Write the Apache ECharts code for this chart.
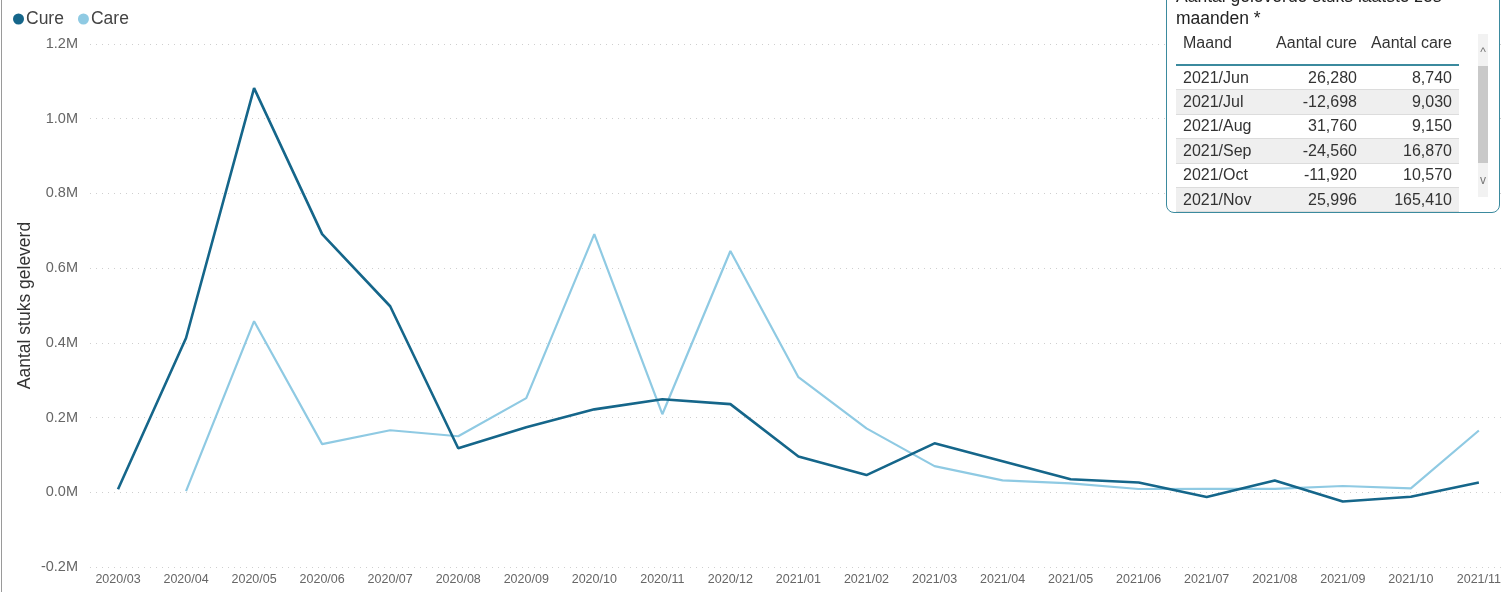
<!DOCTYPE html>
<html>
<head>
<meta charset="utf-8">
<script src="https://cdn.jsdelivr.net/npm/echarts@6/dist/echarts.min.js"></script>
<style>
html,body{margin:0;padding:0;background:#fff;overflow:hidden;}
#chart{position:absolute;left:0;top:0;width:1504px;height:592px;}
#frame{position:absolute;left:1px;top:0;width:1px;height:592px;background:#9a9a9a;}
#tbl{position:absolute;left:1166px;top:-40px;width:332px;height:251px;border:1.5px solid #3b8a9e;border-radius:8px;background:#fff;font-family:"Liberation Sans",Arial,sans-serif;color:#333;}
#ttl{position:absolute;left:9px;top:24px;width:300px;font-size:17.5px;line-height:22px;color:#222;}
#tb{position:absolute;left:9px;top:70px;width:283px;table-layout:fixed;border-collapse:collapse;font-size:16px;}
#tb th{font-weight:normal;height:30px;padding:3px 7px 0 7px;vertical-align:top;line-height:18px;border-bottom:2px solid #3b8a9e;color:#333;}
#tb td{height:23.4px;padding:0 7px;border-bottom:1px solid #dcdcdc;line-height:18px;}
#tb tr.alt td{background:#efefef;}
.l{text-align:left}.r{text-align:right}
#track{position:absolute;left:311px;top:73px;width:10px;height:163px;background:#f2f2f2;}
#thumb{position:absolute;left:311px;top:105px;width:10px;height:97px;background:#c9c9c9;}
#up,#dn{position:absolute;left:311px;width:10px;text-align:center;font-size:12px;color:#777;line-height:12px;}
#up{top:85px}#dn{top:213px}
</style>
</head>
<body>
<div id="chart"></div>
<div id="frame"></div>
<div id="tbl">
  <div id="ttl">Aantal geleverde stuks laatste zes maanden *</div>
  <table id="tb"><colgroup><col style="width:80px"><col style="width:108px"><col style="width:95px"></colgroup>
  <thead><tr><th class="l">Maand</th><th class="r">Aantal cure</th><th class="r">Aantal care</th></tr></thead><tbody id="tbody"></tbody></table>
  <div id="track"></div><div id="thumb"></div>
  <div id="up">^</div><div id="dn">v</div>
</div>
<script>
const categories = ["2020/03","2020/04","2020/05","2020/06","2020/07","2020/08","2020/09","2020/10","2020/11","2020/12","2021/01","2021/02","2021/03","2021/04","2021/05","2021/06","2021/07","2021/08","2021/09","2021/10","2021/11"];
const cure = [8000,413000,1082000,691000,498000,118000,174000,222000,249000,236000,96000,46000,131000,83000,35000,26280,-12698,31760,-24560,-11920,25996];
const care = [null,3000,458000,129000,166000,150000,252000,691000,209000,646000,308000,171000,70000,32000,24000,8740,9030,9150,16870,10570,165410];
const tableMonths = ["2021/Jun","2021/Jul","2021/Aug","2021/Sep","2021/Oct","2021/Nov"];
const yTicks = [-200000,0,200000,400000,600000,800000,1000000,1200000];

// table rows from last six months of data
const fmt = v => v.toLocaleString('en-US');
const tbody = document.getElementById('tbody');
tableMonths.forEach((m,i) => {
  const idx = categories.length - tableMonths.length + i;
  const tr = document.createElement('tr');
  if (i % 2 === 1) tr.className = 'alt';
  tr.innerHTML = '<td class="l">'+m+'</td><td class="r">'+fmt(cure[idx])+'</td><td class="r">'+fmt(care[idx])+'</td>';
  tbody.appendChild(tr);
});

const CURE = '#15668a', CARE = '#8fcae3';
const chart = echarts.init(document.getElementById('chart'));
chart.setOption({
  animation:false,
  textStyle:{fontFamily:'"Liberation Sans", Arial, sans-serif'},
  legend:{left:8,top:5,icon:'circle',itemWidth:11,itemHeight:11,itemGap:14,
    textStyle:{fontSize:17.5,color:'#444',padding:[0,0,0,-3]},
    data:[{name:'Cure',itemStyle:{color:CURE}},{name:'Care',itemStyle:{color:CARE}}]},
  grid:[
    {left:90,right:0,top:44,bottom:25},
    {left:118,right:20,top:44,bottom:25}
  ],
  xAxis:[
    {gridIndex:0,type:'value',show:false,min:0,max:1},
    {gridIndex:1,type:'category',data:categories,boundaryGap:false,
      axisLine:{show:false},axisTick:{show:false},
      axisLabel:{interval:0,fontSize:12.5,color:'#666',margin:6}}
  ],
  yAxis:[
    {gridIndex:0,type:'value',min:yTicks[0],max:yTicks[yTicks.length-1],interval:200000,
      name:'Aantal stuks geleverd',nameLocation:'middle',nameGap:56,nameRotate:90,nameMoveOverlap:false,
      nameTextStyle:{fontSize:17.5,color:'#333'},
      axisLine:{show:false},axisTick:{show:false},
      axisLabel:{fontSize:14.5,color:'#666',margin:12,formatter:v=>(v/1e6).toFixed(1)+'M'},
      splitLine:{lineStyle:{color:'#cfcfcf',type:[1,5],width:1.2}}},
    {gridIndex:1,type:'value',min:yTicks[0],max:yTicks[yTicks.length-1],interval:200000,show:false,splitLine:{show:false}}
  ],
  series:[
    {name:'Cure',type:'line',xAxisIndex:1,yAxisIndex:1,data:cure,showSymbol:false,
      lineStyle:{color:CURE,width:2.6},itemStyle:{color:CURE},z:3},
    {name:'Care',type:'line',xAxisIndex:1,yAxisIndex:1,data:care,showSymbol:false,
      lineStyle:{color:CARE,width:2.2},itemStyle:{color:CARE},z:2}
  ]
});
</script>
</body>
</html>
